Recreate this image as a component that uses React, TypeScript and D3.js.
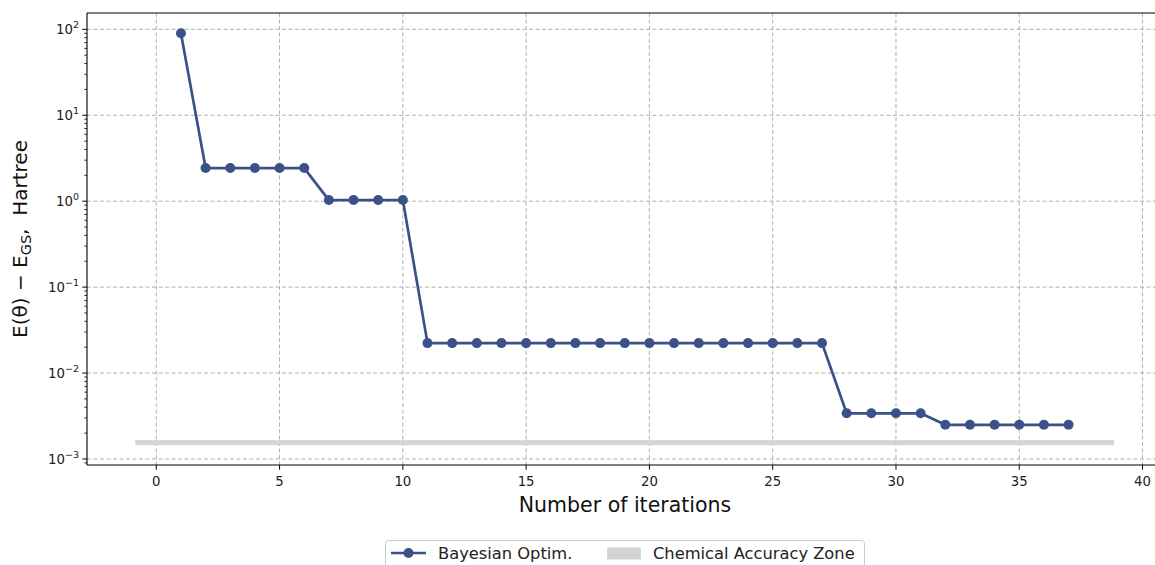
import React from "react";
import * as d3 from "d3";

const iterations = [1,2,3,4,5,6,7,8,9,10,11,12,13,14,15,16,17,18,19,20,21,22,23,24,25,26,27,28,29,30,31,32,33,34,35,36,37];
const energyError = [
  90, 2.43, 2.43, 2.43, 2.43, 2.43, 1.03, 1.03, 1.03, 1.03,
  0.0223, 0.0223, 0.0223, 0.0223, 0.0223, 0.0223, 0.0223, 0.0223, 0.0223, 0.0223,
  0.0223, 0.0223, 0.0223, 0.0223, 0.0223, 0.0223, 0.0223,
  0.0034, 0.0034, 0.0034, 0.0034,
  0.0025, 0.0025, 0.0025, 0.0025, 0.0025, 0.0025,
];
const zoneX = [-0.85, 38.85];
const zoneY = [0.00145, 0.00166];
const xTicks = [0, 5, 10, 15, 20, 25, 30, 35, 40];
const yTicks = [1e2, 1e1, 1e0, 1e-1, 1e-2, 1e-3];
const yTickExp = ["2", "1", "0", "−1", "−2", "−3"];

const W = 1155, H = 565;
const L = 87, T = 13, R = 1163, B = 465;
const LINE = "#3b5289";
const GRID = "#b0b0b0";
const FONT = "DejaVu Sans, sans-serif";

export default function App() {
  const x = d3.scaleLinear().domain([-2.81, 40.83]).range([L, R]);
  const y = d3.scaleLog().domain([Math.pow(10, -3.07), Math.pow(10, 2.19)]).range([B, T]);
  const line = d3.line<number>().x((_, i) => x(iterations[i])).y((d) => y(d));

  const minor: number[] = [];
  for (let e = -4; e <= 2; e++) {
    for (let m = 2; m <= 9; m++) {
      const v = m * Math.pow(10, e);
      const py = y(v);
      if (py >= T && py <= B) minor.push(v);
    }
  }

  return (
    <svg width={W} height={H} style={{ position: "absolute", left: 0, top: 0 }} fontFamily={FONT}>
      <rect x={0} y={0} width={W} height={H} fill="white" />
      <defs>
        <clipPath id="plot">
          <rect x={L} y={T} width={R - L} height={B - T} />
        </clipPath>
      </defs>
      {/* grid */}
      <g stroke={GRID} strokeWidth={1} strokeDasharray="4,2.5">
        {xTicks.map((t) => (
          <line key={"gx" + t} x1={x(t)} x2={x(t)} y1={T} y2={B} />
        ))}
        {yTicks.map((t) => (
          <line key={"gy" + t} x1={L} x2={R} y1={y(t)} y2={y(t)} />
        ))}
      </g>
      {/* chemical accuracy zone */}
      <rect
        x={x(zoneX[0])}
        width={x(zoneX[1]) - x(zoneX[0])}
        y={y(zoneY[1])}
        height={y(zoneY[0]) - y(zoneY[1])}
        fill="#d3d3d3"
        opacity={0.95}
      />
      {/* line */}
      <g clipPath="url(#plot)">
        <path d={line(energyError) || ""} fill="none" stroke={LINE} strokeWidth={2.7} strokeLinejoin="round" />
        {energyError.map((d, i) => (
          <circle key={i} cx={x(iterations[i])} cy={y(d)} r={5} fill={LINE} />
        ))}
      </g>
      {/* spines */}
      <g stroke="black" strokeWidth={1.1} fill="none">
        <line x1={L} x2={R} y1={T} y2={T} />
        <line x1={L} x2={R} y1={B} y2={B} />
        <line x1={L} x2={L} y1={T} y2={B} />
        <line x1={R} x2={R} y1={T} y2={B} />
      </g>
      {/* x ticks */}
      {xTicks.map((t) => (
        <g key={"xt" + t}>
          <line x1={x(t)} x2={x(t)} y1={B} y2={B + 4.7} stroke="black" strokeWidth={1} />
          <text x={x(t)} y={B + 21} textAnchor="middle" fontSize={13.3} fill="#222">
            {t}
          </text>
        </g>
      ))}
      {/* y ticks */}
      {yTicks.map((t, i) => (
        <g key={"yt" + t}>
          <line x1={L - 4.7} x2={L} y1={y(t)} y2={y(t)} stroke="black" strokeWidth={1} />
          <text x={L - 8} y={y(t) + 5} textAnchor="end" fontSize={13.3} fill="#222">
            10
            <tspan fontSize={9.5} dy={-6}>{yTickExp[i]}</tspan>
          </text>
        </g>
      ))}
      {minor.map((v, i) => (
        <line key={"mn" + i} x1={L - 2.7} x2={L} y1={y(v)} y2={y(v)} stroke="black" strokeWidth={0.8} />
      ))}
      {/* axis labels */}
      <text x={(L + R) / 2} y={512} textAnchor="middle" fontSize={20.5} fill="#111">
        Number of iterations
      </text>
      <text transform={`translate(27, 239) rotate(-90)`} textAnchor="middle" fontSize={20} fill="#111" style={{ whiteSpace: "pre" }}>
        E(θ) − E<tspan fontSize={14.5} dy={4}>GS</tspan>
        <tspan dy={-4}>{",\u00a0\u00a0Hartree"}</tspan>
      </text>
      {/* legend */}
      <g>
        <rect x={385.5} y={540.5} width={479} height={36} rx={3} fill="white" stroke="#cccccc" strokeWidth={1} />
        <line x1={391} x2={426} y1={553} y2={553} stroke={LINE} strokeWidth={2.7} />
        <circle cx={408.5} cy={553} r={5} fill={LINE} />
        <text x={438} y={559} fontSize={16.3} fill="#222">Bayesian Optim.</text>
        <rect x={607} y={547.5} width={34} height={12} fill="#d3d3d3" />
        <text x={653} y={559} fontSize={16.3} fill="#222">Chemical Accuracy Zone</text>
      </g>
    </svg>
  );
}
